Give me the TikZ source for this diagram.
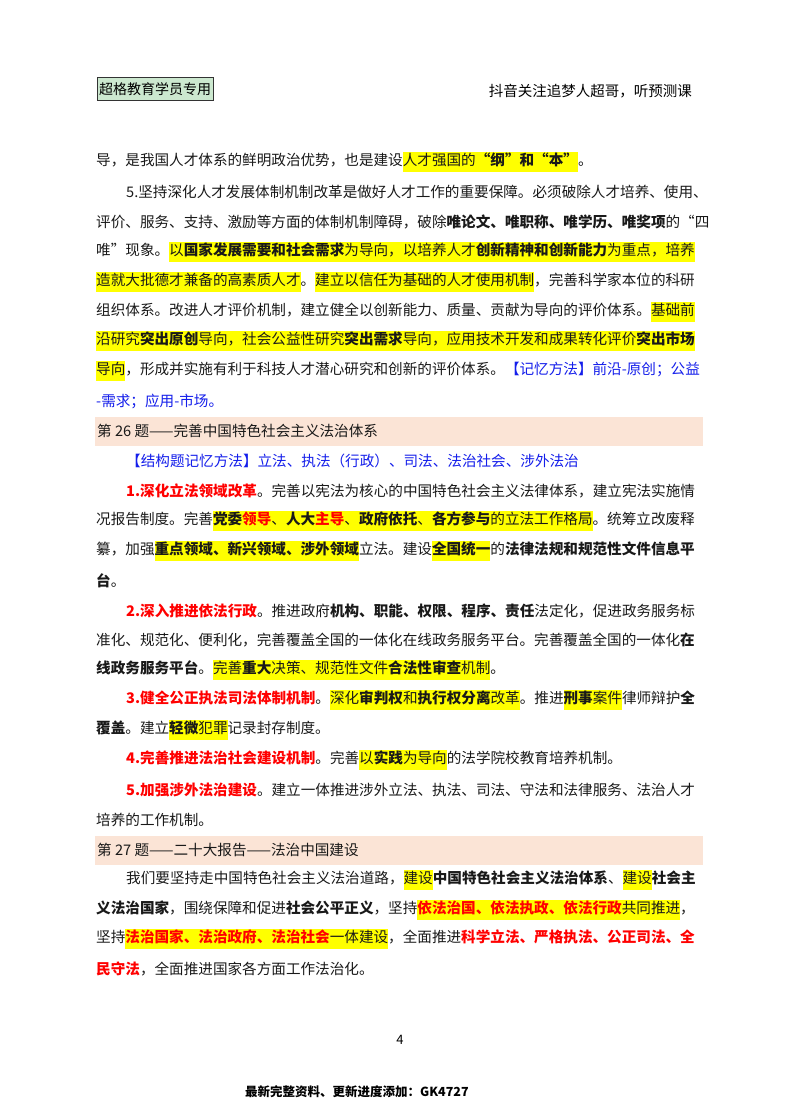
\documentclass[tikz,border=0pt]{standalone}
\usepackage{fontspec}
\setmainfont{Noto Sans CJK SC}
\XeTeXlinebreaklocale "zh"
\XeTeXlinebreakskip=0pt plus 3pt minus 0.5pt
\definecolor{hly}{RGB}{255,255,0}
\definecolor{band}{RGB}{251,228,214}
\definecolor{tagg}{RGB}{204,232,207}
\definecolor{myblue}{RGB}{20,30,235}
\definecolor{myred}{RGB}{255,0,0}
\newcommand\hl[1]{{\fboxsep=0pt\colorbox{hly}{\rule[-6.5pt]{0pt}{20pt}#1}}}
\newcommand\B[1]{{\bfseries #1}}
\newcommand\R[1]{{\color{myred}\bfseries #1}}
\newcommand\Bl[1]{{\color{myblue}#1}}
\newcommand\J[1]{\hbox to 607pt{#1}}
\newcommand\IN{\hspace*{30pt}}
\tikzset{ln/.style={anchor=west,inner sep=0pt,font=\fontsize{14.6pt}{16pt}\selectfont,text=black!90}}
\begin{document}
\begin{tikzpicture}[x=1pt,y=-1pt]
\useasboundingbox (0,0) rectangle (800,1114);
\fill[white] (0,0) rectangle (800,1114);
\node[draw=black!80,fill=tagg,inner sep=2pt,minimum height=23pt,anchor=west,font=\fontsize{14pt}{16pt}\selectfont] (tag) at (97,89) {超格教育学员专用};
\node[anchor=east,inner sep=0pt,font=\fontsize{14.5pt}{16pt}\selectfont] (hr) at (692,91) {抖音关注追梦人超哥，听预测课};
\fill[band] (95,417) rectangle (703,446);
\fill[band] (95,835.5) rectangle (703,864.5);
\node[ln] (l0) at (96,162.0) {导，是我国人才体系的鲜明政治优势，也是建设\hl{人才强国的\B{“纲”和“本”}}。};
\node[ln] (l1) at (96,191.9) {\J{\IN 5.坚持深化人才发展体制机制改革是做好人才工作的重要保障。必须破除人才培养、使用、}};
\node[ln] (l2) at (96,221.8) {\J{评价、服务、支持、激励等方面的体制机制障碍，破除\B{唯论文、唯职称、唯学历、唯奖项}的“四}};
\node[ln] (l3) at (96,251.7) {\J{唯”现象。\hl{以\B{国家发展需要和社会需求}为导向，以培养人才\B{创新精神和创新能力}为重点，培养}}};
\node[ln] (l4) at (96,281.6) {\J{\hl{造就大批德才兼备的高素质人才}。\hl{建立以信任为基础的人才使用机制}，完善科学家本位的科研}};
\node[ln] (l5) at (96,311.5) {\J{组织体系。改进人才评价机制，建立健全以创新能力、质量、贡献为导向的评价体系。\hl{基础前}}};
\node[ln] (l6) at (96,341.4) {\J{\hl{沿研究\B{突出原创}导向，社会公益性研究\B{突出需求}导向，应用技术开发和成果转化评价\B{突出市场}}}};
\node[ln] (l7) at (96,371.3) {\J{\hl{导向}，形成并实施有利于科技人才潜心研究和创新的评价体系。\Bl{【记忆方法】前沿-原创；公益}}};
\node[ln] (l8) at (96,401.2) {\Bl{-需求；应用-市场。}};
\node[ln] (l9) at (97,431.1) {第 26 题——完善中国特色社会主义法治体系};
\node[ln] (l10) at (96,461.0) {\IN\Bl{【结构题记忆方法】立法、执法（行政）、司法、法治社会、涉外法治}};
\node[ln] (l11) at (96,490.9) {\J{\IN\R{1.深化立法领域改革}。完善以宪法为核心的中国特色社会主义法律体系，建立宪法实施情}};
\node[ln] (l12) at (96,520.8) {\J{况报告制度。完善\hl{\B{党委}\R{领导}、\B{人大}\R{主导}、\B{政府依托}、\B{各方参与}的立法工作格局}。统筹立改废释}};
\node[ln] (l13) at (96,550.7) {\J{纂，加强\hl{\B{重点领域、新兴领域、涉外领域}}立法。建设\hl{\B{全国统一}}的\B{法律法规和规范性文件信息平}}};
\node[ln] (l14) at (96,580.6) {\B{台}。};
\node[ln] (l15) at (96,610.5) {\J{\IN\R{2.深入推进依法行政}。推进政府\B{机构、职能、权限、程序、责任}法定化，促进政务服务标}};
\node[ln] (l16) at (96,640.4) {\J{准化、规范化、便利化，完善覆盖全国的一体化在线政务服务平台。完善覆盖全国的一体化\B{在}}};
\node[ln] (l17) at (96,670.3) {\B{线政务服务平台}。\hl{完善\B{重大}决策、规范性文件\B{合法性审查}机制}。};
\node[ln] (l18) at (96,700.2) {\J{\IN\R{3.健全公正执法司法体制机制}。\hl{深化\B{审判权}和\B{执行权分离}改革}。推进\hl{\B{刑事}案件}律师辩护\B{全}}};
\node[ln] (l19) at (96,730.1) {\B{覆盖}。建立\hl{\B{轻微}犯罪}记录封存制度。};
\node[ln] (l20) at (96,760.0) {\IN\R{4.完善推进法治社会建设机制}。完善\hl{以\B{实践}为导向}的法学院校教育培养机制。};
\node[ln] (l21) at (96,789.9) {\J{\IN\R{5.加强涉外法治建设}。建立一体推进涉外立法、执法、司法、守法和法律服务、法治人才}};
\node[ln] (l22) at (96,819.8) {培养的工作机制。};
\node[ln] (l23) at (97,849.7) {第 27 题——二十大报告——法治中国建设};
\node[ln] (l24) at (96,879.6) {\J{\IN 我们要坚持走中国特色社会主义法治道路，\hl{建设}\B{中国特色社会主义法治体系}、\hl{建设}\B{社会主}}};
\node[ln] (l25) at (96,909.5) {\J{\B{义法治国家}，围绕保障和促进\B{社会公平正义}，坚持\hl{\R{依法治国、依法执政、依法行政}共同推进}，}};
\node[ln] (l26) at (96,939.4) {\J{坚持\hl{\R{法治国家、法治政府、法治社会}一体建设}，全面推进\R{科学立法、严格执法、公正司法、全}}};
\node[ln] (l27) at (96,969.3) {\R{民守法}，全面推进国家各方面工作法治化。};
\node[inner sep=0pt,font=\fontsize{13pt}{15pt}\selectfont] (pg) at (400,1040) {4};
\node[anchor=west,inner sep=0pt,font=\fontsize{12.5pt}{15pt}\selectfont\bfseries] (ft) at (245,1092) {最新完整资料、更新进度添加：GK4727};
\end{tikzpicture}
\end{document}
